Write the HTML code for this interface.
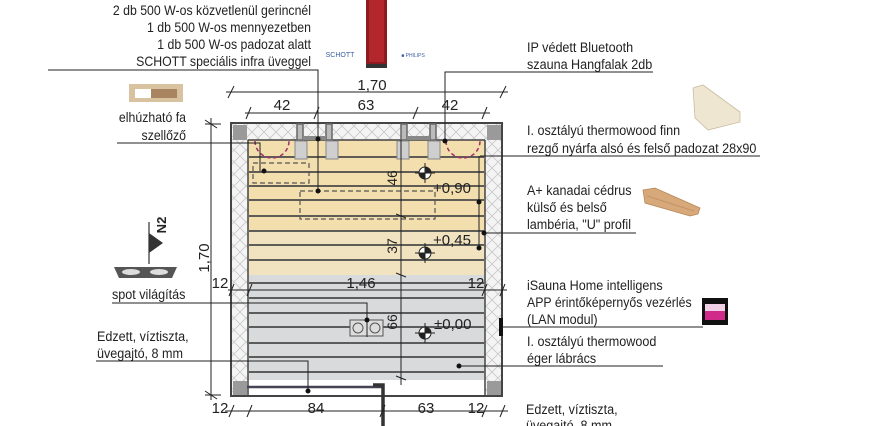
<!DOCTYPE html>
<html><head><meta charset="utf-8"><style>
html,body{margin:0;padding:0;background:#fff;}
svg{display:block;}
text{font-family:"Liberation Sans",sans-serif;font-size:14px;fill:#222;}
</style></head><body>
<svg width="874" height="426" viewBox="0 0 874 426" xmlns="http://www.w3.org/2000/svg">
<defs>
<pattern id="h" width="12" height="12" patternUnits="userSpaceOnUse">
<rect width="12" height="12" fill="#f4f4f4"/>
<path d="M0 0L12 12M12 0L0 12" stroke="#c8c8c8" stroke-width="0.8"/>
</pattern>
</defs>
<rect x="231" y="123" width="271" height="273" fill="url(#h)" stroke="#444" stroke-width="2"/>
<rect x="248" y="140" width="237" height="135" fill="#f3dfae"/>
<rect x="248" y="230" width="237" height="45" fill="#f1e2c0"/>
<rect x="248" y="275" width="237" height="105" fill="#d8dadc"/>
<rect x="248" y="380" width="237" height="15" fill="#fff"/>
<line x1="248" y1="140" x2="248" y2="396" stroke="#444" stroke-width="1.5"/>
<line x1="485" y1="140" x2="485" y2="396" stroke="#444" stroke-width="1.5"/>
<line x1="248" y1="140" x2="485" y2="140" stroke="#444" stroke-width="1.5"/>
<rect x="233" y="125" width="14" height="15" fill="#9a9a9a"/>
<rect x="487" y="125" width="14" height="15" fill="#9a9a9a"/>
<rect x="233" y="381" width="14" height="14" fill="#9a9a9a"/>
<rect x="487" y="381" width="14" height="14" fill="#9a9a9a"/>
<g stroke="#666" stroke-width="1.5" fill="#bbb">
<rect x="297" y="124" width="6" height="16"/><rect x="326" y="124" width="6" height="16"/>
<rect x="401" y="124" width="6" height="16"/><rect x="430" y="124" width="6" height="16"/>
</g>
<rect x="303" y="136" width="23" height="4" fill="#888"/>
<rect x="407" y="136" width="23" height="4" fill="#888"/>
<g stroke="#4a4a4a" stroke-width="1.8">
<line x1="249" y1="157" x2="484" y2="157"/><line x1="249" y1="172" x2="484" y2="172"/>
<line x1="249" y1="186" x2="484" y2="186"/><line x1="249" y1="200" x2="484" y2="200"/>
<line x1="249" y1="216" x2="484" y2="216"/><line x1="249" y1="231" x2="484" y2="231"/>
<line x1="249" y1="245" x2="484" y2="245"/><line x1="249" y1="260" x2="484" y2="260"/>
<line x1="249" y1="283" x2="484" y2="283"/><line x1="249" y1="298" x2="484" y2="298"/>
<line x1="249" y1="313" x2="484" y2="313"/><line x1="249" y1="327" x2="484" y2="327"/>
<line x1="249" y1="343" x2="484" y2="343"/><line x1="249" y1="357" x2="484" y2="357"/>
<line x1="249" y1="372" x2="484" y2="372"/>
</g>
<g fill="#cfcfcf" stroke="#888">
<rect x="295" y="141" width="12" height="18"/><rect x="326" y="141" width="12" height="18"/>
<rect x="397" y="141" width="12" height="18"/><rect x="428" y="141" width="12" height="18"/>
</g>
<path d="M255 141 A17 17 0 0 0 289 141" fill="none" stroke="#a0306a" stroke-width="1.5" stroke-dasharray="4 3"/>
<path d="M446 141 A17 17 0 0 0 480 141" fill="none" stroke="#a0306a" stroke-width="1.5" stroke-dasharray="4 3"/>
<g fill="none" stroke="#555" stroke-width="1.2" stroke-dasharray="5 3">
<rect x="253" y="163" width="56" height="20"/><rect x="300" y="191" width="135" height="28"/>
</g>
<line x1="401" y1="140" x2="401" y2="385" stroke="#222" stroke-width="1"/>
<g stroke="#222"><line x1="396" y1="214" x2="406" y2="218"/><line x1="396" y1="273" x2="406" y2="277"/><line x1="396" y1="376" x2="406" y2="380"/></g>
<text transform="translate(397,178) rotate(-90)" text-anchor="middle">46</text>
<text transform="translate(397,246) rotate(-90)" text-anchor="middle">37</text>
<text transform="translate(397,322) rotate(-90)" text-anchor="middle">66</text>
<g id="lv">
<circle cx="425" cy="173" r="6" fill="#fff" stroke="#222"/>
<path d="M425 173 L425 167 A6 6 0 0 1 431 173Z M425 173 L425 179 A6 6 0 0 1 419 173Z" fill="#222"/>
<line x1="415" y1="173" x2="435" y2="173" stroke="#222"/><line x1="425" y1="163" x2="425" y2="183" stroke="#222"/>
</g>
<use href="#lv" y="80"/><use href="#lv" y="160"/>
<text x="433" y="193" style="font-size:15px">+0,90</text>
<text x="433" y="245" style="font-size:15px">+0,45</text>
<text x="434" y="329" style="font-size:15px">±0,00</text>
<rect x="350" y="320" width="33" height="16" fill="#ddd" stroke="#555"/>
<circle cx="358" cy="328" r="5" fill="none" stroke="#555"/><circle cx="375" cy="328" r="5" fill="none" stroke="#555"/>
<line x1="247" y1="387" x2="382" y2="387" stroke="#445" stroke-width="2.5"/>
<path d="M373 385 H383 V426" fill="none" stroke="#333" stroke-width="3.5"/>
<rect x="499" y="318" width="4" height="18" fill="#111"/>
<g stroke="#222" stroke-width="1" fill="none">
<polyline points="48,70 318,70 318,141"/>
<polyline points="117,143 260,143 260,153"/>
<polyline points="445,141 445,72 653,72"/>
<polyline points="480,156 760,156"/>
<line x1="479" y1="156" x2="479" y2="249"/>
<polyline points="484,233 636,233"/>
<polyline points="502,327 703,327"/>
<polyline points="459,366 663,366"/>
<polyline points="112,303 367,303 367,337"/>
<polyline points="96,361 308,361 308,391"/>
<line x1="318" y1="141" x2="318" y2="191"/>
<line x1="260" y1="153" x2="260" y2="171"/>
</g>
<g fill="#111">
<circle cx="318" cy="139" r="2.5"/><circle cx="318" cy="191" r="2.5"/><circle cx="445" cy="141" r="2.5"/>
<circle cx="264" cy="171" r="2.5"/><circle cx="479" cy="202" r="2.5"/><circle cx="479" cy="248" r="2.5"/>
<circle cx="484" cy="233" r="2.5"/><circle cx="367" cy="320" r="2.5"/><circle cx="308" cy="391" r="2.5"/>
<circle cx="459" cy="366" r="2.5"/>
</g>
<g stroke="#222" stroke-width="1">
<line x1="226" y1="92" x2="508" y2="92"/>
<line x1="245" y1="113" x2="490" y2="113"/>
<line x1="228" y1="290" x2="507" y2="290"/>
<line x1="225" y1="411" x2="508" y2="411"/>
<line x1="211" y1="118" x2="211" y2="400"/>
<line x1="205" y1="124" x2="221" y2="124"/><line x1="205" y1="395" x2="221" y2="395"/>
</g>
<g stroke="#222" stroke-width="1">
<path d="M228 98 L234 86 M500 98 L506 86"/>
<path d="M246 119 L251 107 M314 119 L319 107 M413 119 L418 107 M482 119 L487 107"/>
<path d="M229 296 L234 284 M247 296 L252 284 M482 296 L487 284 M500 296 L505 284"/>
<path d="M229 417 L234 405 M247 417 L252 405 M380 417 L385 405 M482 417 L487 405 M500 417 L505 405"/>
<path d="M205 120 L217 128 M205 391 L217 399"/>
</g>
<text x="372" y="90" text-anchor="middle" style="font-size:15px">1,70</text>
<text x="282" y="110" text-anchor="middle" style="font-size:15px">42</text>
<text x="366" y="110" text-anchor="middle" style="font-size:15px">63</text>
<text x="450" y="110" text-anchor="middle" style="font-size:15px">42</text>
<text x="361" y="288" text-anchor="middle" style="font-size:15px">1,46</text>
<text x="220" y="288" text-anchor="middle" style="font-size:15px">12</text>
<text x="476" y="288" text-anchor="middle" style="font-size:15px">12</text>
<text x="220" y="413" text-anchor="middle" style="font-size:15px">12</text>
<text x="316" y="413" text-anchor="middle" style="font-size:15px">84</text>
<text x="426" y="413" text-anchor="middle" style="font-size:15px">63</text>
<text x="476" y="413" text-anchor="middle" style="font-size:15px">12</text>
<text transform="translate(209,258) rotate(-90)" text-anchor="middle" style="font-size:15px">1,70</text>
<rect x="366" y="0" width="21" height="68" fill="#8c1a1e"/>
<rect x="369" y="0" width="15" height="62" fill="#b3262c"/>
<rect x="366" y="64" width="21" height="4" fill="#333"/>
<text x="340" y="57" text-anchor="middle" style="font-size:7px;fill:#3a5fa0">SCHOTT</text>
<text x="413" y="57" text-anchor="middle" style="font-size:5px;fill:#3a5fa0">■ PHILIPS</text>
<g text-anchor="end">
<text transform="translate(311,15) scale(0.88,1)">2 db 500 W-os közvetlenül gerincnél</text>
<text transform="translate(311,32) scale(0.88,1)">1 db 500 W-os mennyezetben</text>
<text transform="translate(311,49) scale(0.88,1)">1 db 500 W-os padozat alatt</text>
<text transform="translate(311,66) scale(0.88,1)">SCHOTT speciális infra üveggel</text>
<text transform="translate(186,122) scale(0.88,1)">elhúzható fa</text>
<text transform="translate(186,140) scale(0.88,1)">szellőző</text>
</g>
<rect x="129" y="84" width="54" height="18" fill="#d8c2a0"/>
<rect x="135" y="89" width="16" height="9" fill="#fff"/><rect x="151" y="89" width="26" height="9" fill="#a88460"/>
<text transform="translate(527,52) scale(0.9,1)">IP védett Bluetooth</text>
<text transform="translate(527,69) scale(0.9,1)">szauna Hangfalak 2db</text>
<text transform="translate(527,135) scale(0.9,1)">I. osztályú thermowood finn</text>
<text transform="translate(527,153) scale(0.9,1)">rezgő nyárfa alsó és felső padozat 28x90</text>
<text transform="translate(527,195) scale(0.9,1)">A+ kanadai cédrus</text>
<text transform="translate(527,212) scale(0.9,1)">külső és belső</text>
<text transform="translate(527,229) scale(0.9,1)">lambéria, "U" profil</text>
<text transform="translate(527,290) scale(0.9,1)">iSauna Home intelligens</text>
<text transform="translate(527,307) scale(0.88,1)">APP érintőképernyős vezérlés</text>
<text transform="translate(527,324) scale(0.9,1)">(LAN modul)</text>
<text transform="translate(527,346) scale(0.9,1)">I. osztályú thermowood</text>
<text transform="translate(527,363) scale(0.9,1)">éger lábrács</text>
<text transform="translate(526,414) scale(0.9,1)">Edzett, víztiszta,</text>
<text transform="translate(526,430) scale(0.9,1)">üvegajtó, 8 mm</text>
<polygon points="693,88 703,85 740,112 740,122 708,130 695,118" fill="#efe6d2" stroke="#c9bca0" stroke-width="0.8"/>
<polygon points="643,190 655,188 700,208 698,214 690,216 645,203" fill="#d7a879" stroke="#b9875a" stroke-width="0.8"/>
<line x1="647" y1="196" x2="694" y2="211" stroke="#c49466"/>
<rect x="702" y="298" width="26" height="27" fill="#111"/>
<rect x="705" y="304" width="20" height="7" fill="#f0d0e4"/>
<rect x="705" y="311" width="20" height="9" fill="#d02a8a"/>
<line x1="149" y1="222" x2="149" y2="264" stroke="#333" stroke-width="1.2"/>
<polygon points="149,233 163,243 149,253" fill="#333"/>
<text transform="translate(166,225) rotate(-90)" text-anchor="middle" style="font-size:13px;font-weight:bold">N2</text>
<polygon points="114,267 177,267 172,278 119,278" fill="#555"/>
<ellipse cx="131" cy="272" rx="9" ry="3" fill="#ddd"/><ellipse cx="159" cy="272" rx="9" ry="3" fill="#ddd"/>
<text transform="translate(112,299) scale(0.9,1)">spot világítás</text>
<text transform="translate(97,341) scale(0.9,1)">Edzett, víztiszta,</text>
<text transform="translate(97,358) scale(0.9,1)">üvegajtó, 8 mm</text>
</svg>
</body></html>
